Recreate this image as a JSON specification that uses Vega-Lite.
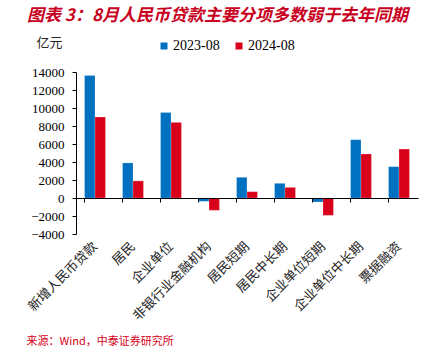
{
  "$schema": "https://vega.github.io/schema/vega-lite/v6.json",
  "width": 342,
  "height": 162,
  "autosize": {"type": "none"},
  "padding": {"left": 76, "top": 72, "right": 21, "bottom": 123},
  "background": "white",
  "title": {
    "text": "图表 3：8月人民币贷款主要分项多数弱于去年同期",
    "anchor": "start",
    "frame": "group",
    "dx": -49,
    "offset": 11,
    "font": "Noto Sans CJK SC",
    "fontSize": 17,
    "fontWeight": "bold",
    "fontStyle": "italic",
    "color": "#C8001E"
  },
  "config": {
    "view": {"stroke": null},
    "axis": {"grid": false}
  },
  "data": {
    "values": [
      {"category": "新增人民币贷款", "series": "2023-08", "value": 13600},
      {"category": "新增人民币贷款", "series": "2024-08", "value": 9000},
      {"category": "居民", "series": "2023-08", "value": 3900},
      {"category": "居民", "series": "2024-08", "value": 1900},
      {"category": "企业单位", "series": "2023-08", "value": 9500},
      {"category": "企业单位", "series": "2024-08", "value": 8400},
      {"category": "非银行业金融机构", "series": "2023-08", "value": -370},
      {"category": "非银行业金融机构", "series": "2024-08", "value": -1370},
      {"category": "居民短期", "series": "2023-08", "value": 2300},
      {"category": "居民短期", "series": "2024-08", "value": 700},
      {"category": "居民中长期", "series": "2023-08", "value": 1630},
      {"category": "居民中长期", "series": "2024-08", "value": 1180},
      {"category": "企业单位短期", "series": "2023-08", "value": -440},
      {"category": "企业单位短期", "series": "2024-08", "value": -1930},
      {"category": "企业单位中长期", "series": "2023-08", "value": 6480},
      {"category": "企业单位中长期", "series": "2024-08", "value": 4890},
      {"category": "票据融资", "series": "2023-08", "value": 3480},
      {"category": "票据融资", "series": "2024-08", "value": 5440}
    ]
  },
  "resolve": {"axis": {"x": "independent"}},
  "layer": [
    {
      "mark": {"type": "bar", "stroke": "#ffffff", "strokeOpacity": 0.35, "strokeWidth": 0.6},
      "encoding": {
        "x": {
          "field": "category",
          "type": "nominal",
          "sort": null,
          "scale": {"paddingInner": 0.45, "paddingOuter": 0.225},
          "axis": {
            "orient": "bottom",
            "domain": false,
            "ticks": false,
            "labelAngle": -45,
            "labelAlign": "right",
            "labelBaseline": "middle",
            "labelPadding": 10,
            "labelFont": "Noto Sans CJK SC",
            "labelFontSize": 13,
            "labelColor": "#222222",
            "title": "来源：Wind，中泰证券研究所",
            "titleX": -50,
            "titleY": 107,
            "titleAlign": "left",
            "titleBaseline": "middle",
            "titleFont": "Noto Sans CJK SC",
            "titleFontSize": 11,
            "titleFontWeight": "normal",
            "titleColor": "#D9001B"
          }
        },
        "xOffset": {
          "field": "series",
          "type": "nominal",
          "scale": {"paddingInner": 0, "paddingOuter": 0}
        },
        "y": {
          "field": "value",
          "type": "quantitative",
          "scale": {"domain": [-4000, 14000], "nice": false},
          "axis": {
            "values": [-4000, -2000, 0, 2000, 4000, 6000, 8000, 10000, 12000, 14000],
            "format": "d",
            "domainColor": "#000000",
            "tickColor": "#000000",
            "tickSize": 4,
            "labelPadding": 8,
            "labelFont": "Liberation Serif",
            "labelFontSize": 13,
            "labelColor": "#000000",
            "title": "亿元",
            "titleAngle": 0,
            "titleX": -27,
            "titleY": -30,
            "titleAlign": "center",
            "titleBaseline": "middle",
            "titleFont": "Noto Sans CJK SC",
            "titleFontSize": 13,
            "titleFontWeight": "normal",
            "titleColor": "#222222"
          }
        },
        "color": {
          "field": "series",
          "type": "nominal",
          "scale": {"domain": ["2023-08", "2024-08"], "range": ["#0070C0", "#D9001B"]},
          "legend": {
            "title": null,
            "orient": "none",
            "direction": "horizontal",
            "legendX": 81,
            "legendY": -33,
            "symbolType": "square",
            "symbolSize": 49,
            "symbolStrokeWidth": 0,
            "labelFont": "Liberation Serif",
            "labelFontSize": 14,
            "labelColor": "#000000",
            "labelOffset": 2,
            "columnPadding": 12,
            "padding": 0
          }
        }
      }
    },
    {
      "mark": {"type": "point", "opacity": 0},
      "encoding": {
        "x": {
          "field": "category",
          "type": "nominal",
          "sort": null,
          "axis": {
            "orient": "bottom",
            "offset": -36,
            "labels": false,
            "ticks": true,
            "tickSize": 4,
            "tickColor": "#000000",
            "bandPosition": 0,
            "domain": true,
            "domainColor": "#000000",
            "domainWidth": 1.2,
            "title": null,
            "zindex": 1
          }
        }
      }
    }
  ]
}
